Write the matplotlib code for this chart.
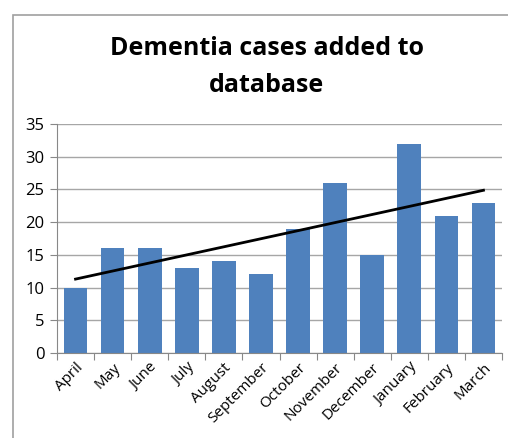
import numpy as np
import matplotlib
matplotlib.use("Agg")
import matplotlib.pyplot as plt
from matplotlib.patches import Rectangle

months = ["April", "May", "June", "July", "August", "September",
          "October", "November", "December", "January", "February", "March"]
cases = [10, 16, 16, 13, 14, 12, 19, 26, 15, 32, 21, 23]

plt.rcParams['font.family'] = ['Open Sans', 'DejaVu Sans']

fig = plt.figure(figsize=(5.08, 4.38), dpi=100)
ax = fig.add_axes([57/508, 1-353/438, (502-57)/508, (353-124)/438])

x = np.arange(len(months))
ax.bar(x, cases, width=0.64, color='#4F81BD', zorder=2)

# linear trend line like Excel's
k, b = np.polyfit(x, cases, 1)
ax.plot(x, k*x + b, color='black', lw=2, zorder=3)

ax.set_xlim(-0.5, len(months)-0.5)
ax.set_ylim(0, 35)
ax.set_yticks(range(0, 36, 5))
ax.yaxis.grid(True, color='#A6A6A6', lw=1, zorder=0)
ax.set_xticks(np.arange(-0.5, len(months)), minor=False)
ax.set_xticklabels([])
ax.set_xticks(x, minor=True)
ax.set_xticklabels(months, minor=True, rotation=45, ha='right', rotation_mode='anchor', fontsize=11)
ax.tick_params(axis='x', which='major', length=5, color='#888888', direction='out')
ax.tick_params(axis='x', which='minor', length=0, pad=5)
ax.tick_params(axis='y', length=5, color='#888888', labelsize=12, pad=4)
for s in ['top', 'right']:
    ax.spines[s].set_visible(False)
for s in ['left', 'bottom']:
    ax.spines[s].set_color('#888888')

fig.text(0.525, 1-67/438, "Dementia cases added to\ndatabase", ha='center', va='center',
         fontsize=18, fontweight='bold', linespacing=1.6)

# chart frame
fig.patches.append(Rectangle((13/508, -0.1), 1.2, 1-15/438+0.1, transform=fig.transFigure,
                             fill=False, edgecolor='#A0A0A0', lw=1.2))

fig.savefig("out.png", dpi=100)
